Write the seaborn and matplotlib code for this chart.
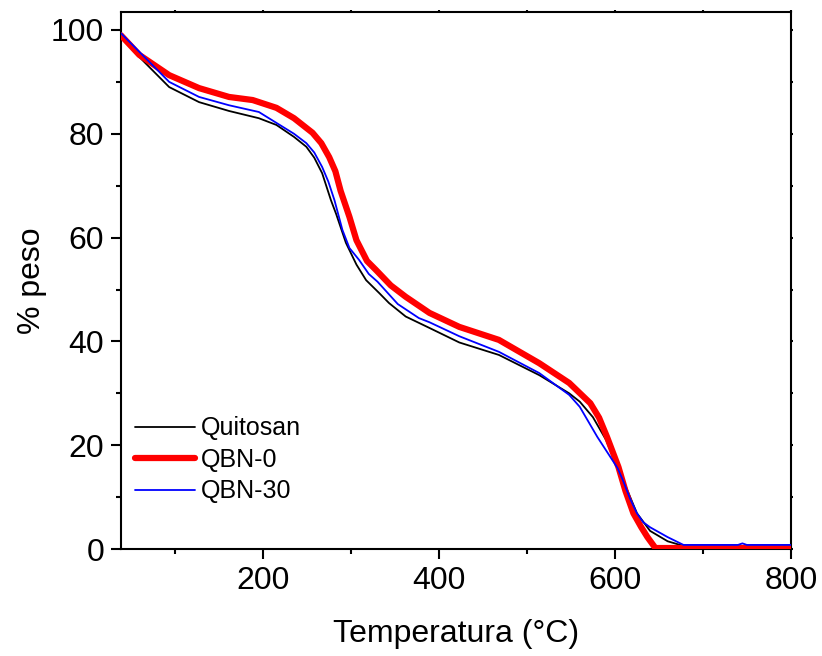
import matplotlib
matplotlib.use("Agg")
import matplotlib.pyplot as plt
import seaborn as sns
import pandas as pd
from matplotlib.ticker import MultipleLocator

# values (temperature in °C, weight in %)
temp_quitosan = [38, 59, 93, 127, 161, 195, 215, 235, 249, 258, 267, 277, 283, 294, 306, 317, 332, 343, 362, 389,
                 423, 468, 514, 548, 560, 575, 590, 603, 610, 625, 640, 660, 680, 800]
peso_quitosan = [98.8, 94.8, 89.0, 86.1, 84.4, 83.0, 81.7, 79.4, 77.5, 75.4, 72.4, 67.2, 64.5, 59.0, 54.8, 51.8, 49.3, 47.4, 44.8, 42.6,
                 39.8, 37.4, 33.5, 30.0, 28.4, 25.4, 21.0, 15.6, 13.0, 6.9, 3.5, 1.5, 0.5, 0.5]

temp_qbn0 = [38, 59, 93, 127, 161, 188, 215, 235, 256, 266, 275, 282, 288, 298, 306, 318, 328, 345, 362, 389,
             423, 468, 514, 548, 572, 582, 591, 604, 612, 621, 630, 637, 646, 800]
peso_qbn0 = [99.0, 95.2, 91.3, 88.8, 87.1, 86.5, 85.0, 83.0, 80.2, 78.2, 75.5, 72.8, 69.0, 64.0, 59.5, 55.5, 53.8, 50.8, 48.6, 45.5,
             42.8, 40.3, 35.8, 32.0, 28.1, 25.3, 21.6, 15.8, 11.2, 6.9, 4.2, 2.3, 0.2, 0.2]

temp_qbn30 = [38, 59, 93, 127, 161, 195, 215, 235, 249, 258, 267, 274, 281, 290, 298, 309, 320, 330, 353, 377, 389,
              423, 468, 514, 548, 560, 580, 603, 609, 617, 625, 632, 640, 660, 678, 740, 745, 750, 800]
peso_qbn30 = [99.4, 95.8, 90.0, 87.1, 85.5, 84.2, 82.1, 80.0, 78.2, 76.4, 73.6, 70.8, 67.2, 61.5, 58.0, 55.7, 53.0, 51.5, 47.2, 44.5, 43.7,
              41.0, 38.0, 33.9, 29.7, 27.4, 21.6, 15.6, 13.3, 9.8, 6.9, 5.2, 4.2, 2.3, 0.8, 0.8, 1.1, 0.8, 0.8]

series_names = ["Quitosan", "QBN-0", "QBN-30"]
series_colors = ["black", "#ff0000", "#0000ff"]
series_widths = [1.3, 4.5, 1.3]

sns.set_style("ticks")
plt.rcParams["font.family"] = ["Liberation Sans", "DejaVu Sans"]
plt.rcParams["text.color"] = "black"
plt.rcParams["axes.labelcolor"] = "black"
plt.rcParams["xtick.color"] = "black"
plt.rcParams["ytick.color"] = "black"

fig = plt.figure(figsize=(8.22, 6.56), dpi=100)
ax = fig.add_axes([0.147, 0.163, 0.815, 0.819])

curves = [(temp_quitosan, peso_quitosan), (temp_qbn0, peso_qbn0), (temp_qbn30, peso_qbn30)]
for i in range(len(curves)):
    df = pd.DataFrame({"T": curves[i][0], "w": curves[i][1]})
    sns.lineplot(data=df, x="T", y="w", ax=ax, color=series_colors[i], linewidth=series_widths[i],
                 label=series_names[i], sort=False, estimator=None, zorder=3 + i,
                 solid_joinstyle="round", solid_capstyle="round")

ax.set_xlim(38, 800)
ax.set_ylim(0, 103.5)
ax.xaxis.set_major_locator(MultipleLocator(200))
ax.xaxis.set_minor_locator(MultipleLocator(100))
ax.yaxis.set_major_locator(MultipleLocator(20))
ax.yaxis.set_minor_locator(MultipleLocator(10))

for side in ["left", "right", "top", "bottom"]:
    ax.spines[side].set_visible(True)
    ax.spines[side].set_linewidth(1.5)
    ax.spines[side].set_color("black")

ax.tick_params(axis="both", which="major", length=7, width=1.5, labelsize=23, pad=5)
ax.tick_params(axis="both", which="minor", length=3.6, width=1.5)
ax.tick_params(axis="x", which="both", top=True, labeltop=False)
ax.tick_params(axis="y", which="both", right=True, labelright=False)
for t in ax.xaxis.get_ticklines(minor=False)[1::2] + ax.xaxis.get_ticklines(minor=True)[1::2]:
    t.set_markersize(1.5)
for t in ax.yaxis.get_ticklines(minor=False)[1::2] + ax.yaxis.get_ticklines(minor=True)[1::2]:
    t.set_markersize(1.5)

ax.set_xlabel("Temperatura (°C)", fontsize=23, labelpad=17)
ax.set_ylabel("% peso", fontsize=23, labelpad=3)

ax.legend(loc="lower left", bbox_to_anchor=(0.021, 0.085), frameon=False, fontsize=18,
          handlelength=2.4, handletextpad=0.25, labelspacing=0.3, borderpad=0, borderaxespad=0)

fig.savefig("out.png", dpi=100)
